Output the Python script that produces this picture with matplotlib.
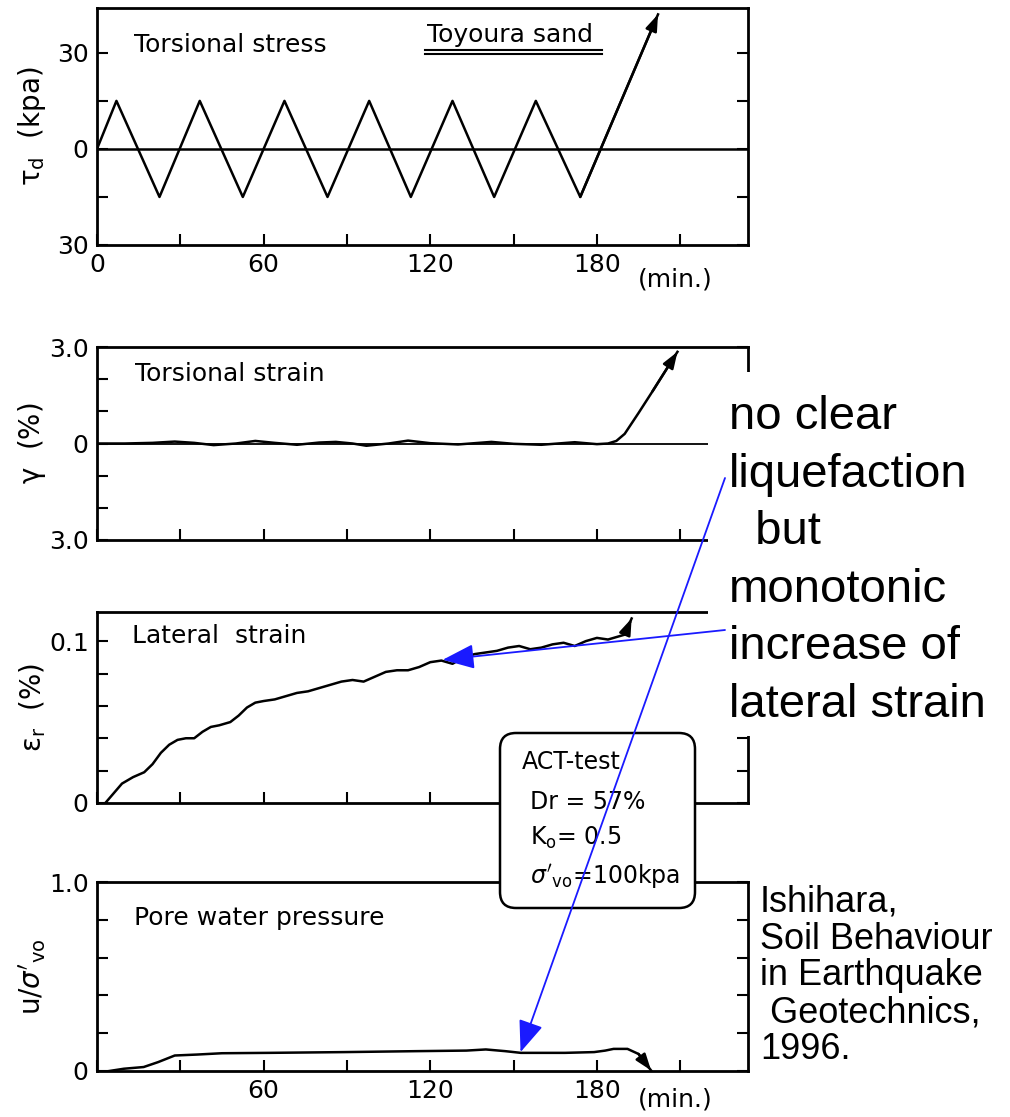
import numpy as np
import matplotlib
matplotlib.use('Agg')
import matplotlib.pyplot as plt
from matplotlib.patches import FancyBboxPatch, Rectangle, ConnectionPatch
from matplotlib.transforms import IdentityTransform

W, H = 1010, 1117

# torsional stress, turning points of the loading (min, kPa)
stress_t = [0, 7, 22.5, 37, 52.5, 67.5, 83, 98, 113, 128, 143, 158, 174, 202]
stress_v = [0, 15, -15, 15, -15, 15, -15, 15, -15, 15, -15, 15, -15, 42]

# torsional strain (%)
strain_t = [0, 10, 20, 28, 35, 42, 50, 57, 64, 72, 80, 86, 92, 97, 105, 112, 120,
            130, 142, 150, 160, 172, 180, 184, 187, 190, 195, 200, 209]
strain_v = [0, 0.0, 0.02, 0.06, 0.02, -0.05, 0.0, 0.08, 0.02, -0.04, 0.03, 0.05, 0.0,
            -0.07, 0.0, 0.09, 0.01, -0.03, 0.05, -0.01, -0.04, 0.04, -0.02, 0.0, 0.08,
            0.3, 0.95, 1.62, 2.85]

# lateral strain (%)
lat_t = [3, 6, 9, 13, 17, 20, 23, 26, 29, 32, 35, 38, 41, 44, 48, 51, 54, 57, 60, 64,
         68, 72, 76, 80, 84, 88, 92, 96, 100, 104, 108, 112, 116, 120, 124, 128, 132,
         136, 140, 144, 148, 152, 156, 160, 164, 168, 172, 176, 180, 184, 188, 190, 192.5]
lat_v = [0, 0.006, 0.012, 0.016, 0.019, 0.024, 0.031, 0.036, 0.039, 0.040,
         0.040, 0.044, 0.047, 0.048, 0.050, 0.054, 0.059, 0.062, 0.063, 0.064,
         0.066, 0.068, 0.069, 0.071, 0.073, 0.075, 0.076, 0.075, 0.078, 0.081,
         0.082, 0.082, 0.084, 0.087, 0.088, 0.086, 0.090, 0.092, 0.093, 0.094,
         0.096, 0.097, 0.095, 0.096, 0.098, 0.099, 0.097, 0.100, 0.102, 0.101,
         0.103, 0.104, 0.114]

# pore water pressure ratio
pwp_t = [4.4, 9.7, 16.8, 22, 28, 36, 45, 62, 89, 115, 133, 140, 147, 152.6, 168.5,
         179, 183, 186, 191, 195, 199.5]
pwp_v = [0, 0.012, 0.021, 0.047, 0.082, 0.087, 0.094, 0.096, 0.1, 0.105, 0.108, 0.114,
         0.105, 0.096, 0.096, 0.1, 0.108, 0.117, 0.117, 0.09, 0.003]

xticks = [0, 30, 60, 90, 120, 150, 180, 210]
fs_tick = 18
fs_lab = 20
fs_title = 18

fig = plt.figure(figsize=(W / 100, H / 100), dpi=100)


def px_axes(left, top, right, bottom):
    return fig.add_axes([left / W, 1 - bottom / H, (right - left) / W, (bottom - top) / H])


def style(ax, xlabels, yticks, ylabels):
    ax.set_xlim(0, 234.4)
    ax.set_xticks(xticks, labels=xlabels)
    ax.set_yticks(yticks, labels=ylabels)
    ax.tick_params(direction='in', length=8, width=1.5, right=True, top=False,
                   labelsize=fs_tick, pad=6)
    for s in ax.spines.values():
        s.set_linewidth(2)
    ax.yaxis.set_label_coords(-0.076, 0.5)


def end_arrow(ax, t, v):
    ax.annotate('', xy=(t[-1], v[-1]), xytext=(t[-2], v[-2]),
                arrowprops=dict(arrowstyle='-|>,head_length=0.7,head_width=0.25',
                                color='k', lw=1.8, mutation_scale=14,
                                shrinkA=0, shrinkB=0))


blank = [''] * 8

# --- torsional stress
ax1 = px_axes(97, 8, 748, 245)
ax1.axhline(0, color='k', lw=1.8)
ax1.plot(stress_t, stress_v, color='k', lw=1.8)
end_arrow(ax1, stress_t, stress_v)
ax1.set_ylim(-30, 44)
style(ax1, ['0', '', '60', '', '120', '', '180', ''], [-30, -15, 0, 15, 30],
      ['30', '', '0', '', '30'])
ax1.set_ylabel(r'$\mathregular{\tau_d}$  (kpa)', fontsize=fs_lab)
ax1.text(13.3, 32.3, 'Torsional stress', fontsize=fs_title, va='center')
ax1.text(119, 35.5, 'Toyoura sand', fontsize=fs_title, va='center')
ax1.plot([118, 182], [31.0, 31.0], color='k', lw=1.5)
ax1.plot([118, 182], [29.6, 29.6], color='k', lw=1.5)

# --- torsional strain
ax2 = px_axes(97, 347, 748, 540)
ax2.axhline(0, color='k', lw=1.3)
ax2.plot(strain_t, strain_v, color='k', lw=1.8)
end_arrow(ax2, strain_t, strain_v)
ax2.set_ylim(-3, 3)
style(ax2, blank, [-3, -2, -1, 0, 1, 2, 3], ['3.0', '', '', '0', '', '', '3.0'])
ax2.set_ylabel(r'$\mathregular{\gamma}$  (%)', fontsize=fs_lab)
ax2.text(13.6, 2.15, 'Torsional strain', fontsize=fs_title, va='center')

# --- lateral strain
ax3 = px_axes(97, 612, 748, 803)
ax3.plot(lat_t, lat_v, color='k', lw=1.8)
end_arrow(ax3, lat_t, lat_v)
ax3.set_ylim(0, 0.118)
style(ax3, blank, [0, 0.02, 0.04, 0.06, 0.08, 0.1], ['0', '', '', '', '', '0.1'])
ax3.set_ylabel(r'$\mathregular{\varepsilon_r}$  (%)', fontsize=fs_lab)
ax3.text(12.7, 0.103, 'Lateral  strain', fontsize=fs_title, va='center')

# --- pore water pressure
ax4 = px_axes(97, 882, 748, 1071)
ax4.plot(pwp_t, pwp_v, color='k', lw=1.8)
end_arrow(ax4, pwp_t, pwp_v)
ax4.set_ylim(0, 1.0)
style(ax4, ['', '', '60', '', '120', '', '180', ''], [0, 0.2, 0.4, 0.6, 0.8, 1.0],
      ['0', '', '', '', '', '1.0'])
ax4.set_ylabel(r"u/$\sigma'_{\mathrm{vo}}$", fontsize=fs_lab)
ax4.text(13.2, 0.81, 'Pore water pressure', fontsize=fs_title, va='center')

fig.text(638 / W, 1 - 280 / H, '(min.)', fontsize=fs_tick, va='center')
fig.text(638 / W, 1 - 1100 / H, '(min.)', fontsize=fs_tick, va='center')

# white area behind the comment text
fig.add_artist(Rectangle((708, H - 736), 302, 364, transform=IdentityTransform(),
                         facecolor='white', edgecolor='none', zorder=5))

# test conditions box
fig.add_artist(FancyBboxPatch((500, H - 908), 195, 175,
                              boxstyle='round,pad=0,rounding_size=16',
                              transform=IdentityTransform(), facecolor='white',
                              edgecolor='k', lw=1.8, zorder=5))
box_lines = [('ACT-test', 522, 762), ('Dr = 57%', 530, 802),
             (r'K$\mathregular{_o}$= 0.5', 530, 838),
             (r"$\sigma'_{\mathrm{vo}}$=100kpa", 530, 877)]
for txt, x, y in box_lines:
    fig.text(x / W, 1 - y / H, txt, fontsize=17, va='center', zorder=6)

# comment text
comment = ['no clear', 'liquefaction', '  but', 'monotonic', 'increase of', 'lateral strain']
for i, line in enumerate(comment):
    fig.text(729 / W, 1 - (429 + 57.6 * i) / H, line, fontsize=34,
             family='Liberation Sans', va='baseline', zorder=6)

source = ['Ishihara,', 'Soil Behaviour', 'in Earthquake', ' Geotechnics,', '1996.']
for i, line in enumerate(source):
    fig.text(760 / W, 1 - (912 + 36.7 * i) / H, line, fontsize=26,
             family='Liberation Sans', va='baseline', zorder=6)

# blue pointers
arrow_style = '-|>,head_length=1.4,head_width=0.55'
fig.add_artist(ConnectionPatch(xyA=(725, H - 478), coordsA='figure pixels',
                               xyB=(152.5, 0.10), coordsB='data', axesB=ax4,
                               arrowstyle=arrow_style, mutation_scale=14,
                               color='#1a1aff', lw=1.3, zorder=7))
fig.add_artist(ConnectionPatch(xyA=(725, H - 630), coordsA='figure pixels',
                               xyB=(124.5, 0.0885), coordsB='data', axesB=ax3,
                               arrowstyle=arrow_style, mutation_scale=14,
                               color='#1a1aff', lw=1.3, zorder=7))

fig.savefig('out.png', dpi=100)
